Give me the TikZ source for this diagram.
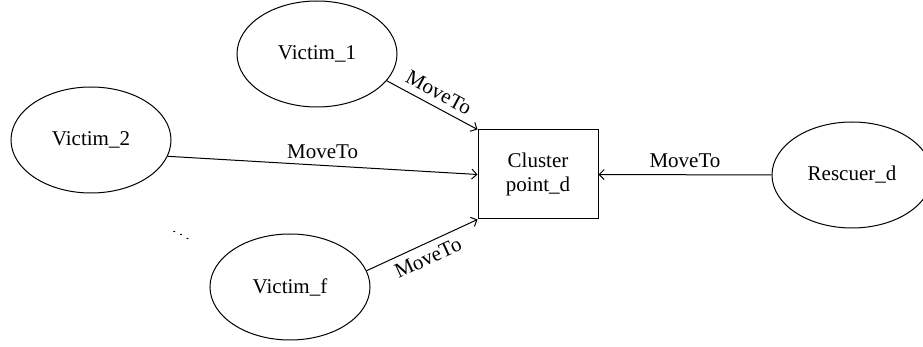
\documentclass[tikz,border=0pt]{standalone}
\usepackage{fontspec}
\setmainfont{Liberation Serif}
\usetikzlibrary{shapes,arrows.meta}

\tikzset{
  agent/.style={draw, ellipse, minimum width=80pt, minimum height=53pt, inner sep=0pt},
  target/.style={draw, rectangle, minimum width=60pt, minimum height=44.5pt, align=center},
  moveto/.style={-{Straight Barb[length=2.5pt,width=5pt]}},
}

\begin{document}
\begin{tikzpicture}[x=0.5pt,y=-0.5pt,line width=0.5pt,font=\fontsize{10.5}{12}\selectfont]
			\useasboundingbox (0,0) rectangle (923,347);
			% agents
			\node[agent] (v1) at (317,54) {Victim\_1};
			\node[agent] (v2) at (91,140) {Victim\_2};
			\node[agent] (vf) at (290,287) {Victim\_f};
			\node[agent] (rd) at (852,175) {Rescuer\_d};
			\node[inner sep=0pt] (dots) at (181,232) {\scalebox{0.85}[0.55]{$\ddots$}};
			% cluster point
			\node[target] (cp) at (538,174.5) {Cluster\\point\_d};
			% moves
			\draw [moveto] (v1.-21) -- (cp.north west) node[midway, above, sloped] {MoveTo};
			\draw [moveto] (v2.-12) -- (cp.west) node[midway, above] {MoveTo};
			\draw [moveto] (vf.12) -- (cp.south west) node[midway, below, sloped] {MoveTo};
			\draw [moveto] (rd.west) -- (cp.east) node[midway, above] {MoveTo};
		\end{tikzpicture}
\end{document}
